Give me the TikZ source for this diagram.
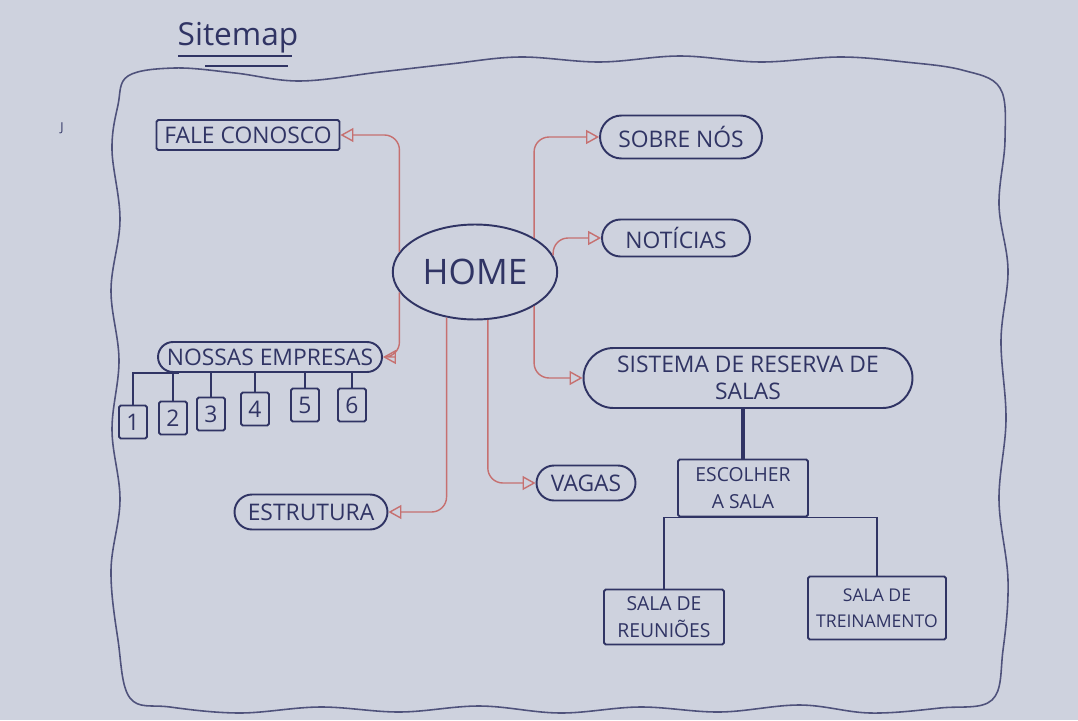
\documentclass[tikz,border=0pt]{standalone}
\usepackage{fontspec}
\setsansfont{Open Sans}
\usepackage{tikz}
\usetikzlibrary{shapes.geometric, shapes.misc, arrows.meta, positioning}

\definecolor{ink}{RGB}{48,52,100}
\definecolor{redpen}{RGB}{198,112,112}
\definecolor{paper}{RGB}{206,210,222}

\begin{document}
\begin{tikzpicture}[x=0.02cm, y=-0.02cm,
  pill/.style={rounded rectangle, draw=ink, line width=1.1pt, text=ink,
               font=\sffamily\fontsize{13}{15}\selectfont, inner sep=0pt, align=center},
  page/.style={rectangle, draw=ink, line width=1.1pt, rounded corners=1pt, text=ink,
               font=\sffamily\fontsize{13}{15}\selectfont, inner sep=0pt, align=center},
  num/.style={page, minimum width=0.56cm, minimum height=0.66cm},
  link/.style={draw=redpen, line width=0.8pt, rounded corners=0.3cm,
               -{Triangle[open, length=0.26cm, width=0.28cm]}},
  tree/.style={draw=ink, line width=1.1pt}
]
% paper and wavy frame
\useasboundingbox[fill=paper] (0,0) rectangle (1078,720);
\draw[ink!85, line width=0.9pt] plot[smooth cycle, tension=0.6] coordinates {
  (128,76) (175,68) (235,73) (300,81) (380,72) (450,64) (520,57) (600,62)
  (680,56) (760,62) (840,57) (905,62) (962,70) (1000,88)
  (1005,140) (999,205) (1008,270) (1001,340) (1006,420) (999,500) (1008,580)
  (1003,650) (992,700)
  (940,708) (870,713) (800,705) (720,712) (640,707) (560,713) (480,706)
  (400,712) (320,707) (240,713) (170,707) (130,698)
  (118,640) (111,570) (120,500) (112,430) (119,360) (111,290) (120,220)
  (112,150) (118,105)};

% title
\node[text=ink, font=\sffamily\fontsize{18}{20}\selectfont] (title) at (238,38) {Sitemap};
\draw[ink, line width=0.9pt] (178,56) -- (292,56);
\draw[ink, line width=0.9pt] (205,66) -- (288,66);
\node[text=ink, font=\sffamily\fontsize{7}{8}\selectfont] (mark) at (62,128) {J};

% pages
\node[ellipse, draw=ink, line width=1.1pt, text=ink, minimum width=2.9cm, minimum height=1.9cm,
      font=\sffamily\fontsize{20}{22}\selectfont] (home) at (475,272) {HOME};
\node[page, minimum width=3.66cm, minimum height=0.6cm] (fale) at (248,135) {FALE CONOSCO};
\node[pill, minimum width=3.24cm, minimum height=0.86cm] (sobre) at (681,137) {SOBRE NÓS};
\node[pill, minimum width=2.96cm, minimum height=0.74cm] (noticias) at (676,238) {NOTÍCIAS};
\node[pill, minimum width=4.48cm, minimum height=0.6cm] (empresas) at (270,357) {NOSSAS EMPRESAS};
\node[pill, minimum width=6.58cm, minimum height=1.2cm] (sistema) at (748,378) {SISTEMA DE RESERVA DE\\SALAS};
\node[pill, minimum width=3.06cm, minimum height=0.7cm] (estrutura) at (311,512) {ESTRUTURA};
\node[pill, minimum width=1.98cm, minimum height=0.7cm] (vagas) at (586,483) {VAGAS};
\node[page, minimum width=2.6cm, minimum height=1.14cm, font=\sffamily\fontsize{11}{15}\selectfont] (escolher) at (743,488) {ESCOLHER\\A SALA};
\node[page, minimum width=2.4cm, minimum height=1.1cm, font=\sffamily\fontsize{11}{15}\selectfont] (reunioes) at (664,617) {SALA DE\\REUNIÕES};
\node[page, minimum width=2.76cm, minimum height=1.26cm, font=\sffamily\fontsize{10}{15}\selectfont] (treino) at (877,608) {SALA DE\\TREINAMENTO};

% companies
\node[num] (n1) at (133,422) {1};
\node[num] (n2) at (173,418) {2};
\node[num] (n3) at (211,414) {3};
\node[num] (n4) at (255,409) {4};
\node[num] (n5) at (305,405) {5};
\node[num] (n6) at (352,405) {6};

% links from home
\draw[link] (home.165) |- (fale.east);
\draw[link] (home.195) |- (empresas.east);
\draw[link] (home.30) |- (sobre.west);
\draw[link] (home.12) |- (noticias.west);
\draw[link] (home.-30) |- (sistema.west);
\draw[link] (home.-122) |- (estrutura.east);
\draw[link] (home.-75) |- (vagas.west);

% trees
\draw[tree] (n1.north) |- (empresas.190);
\foreach \k in {2,...,6}
  \draw[tree] (n\k.north) -- (n\k.north |- empresas.south);
\draw[tree, line width=1.8pt] (escolher.north) -- (escolher.north |- sistema.south);
\draw[tree] (reunioes.north) |- (escolher.south) -| (treino.north);
\end{tikzpicture}
\end{document}
